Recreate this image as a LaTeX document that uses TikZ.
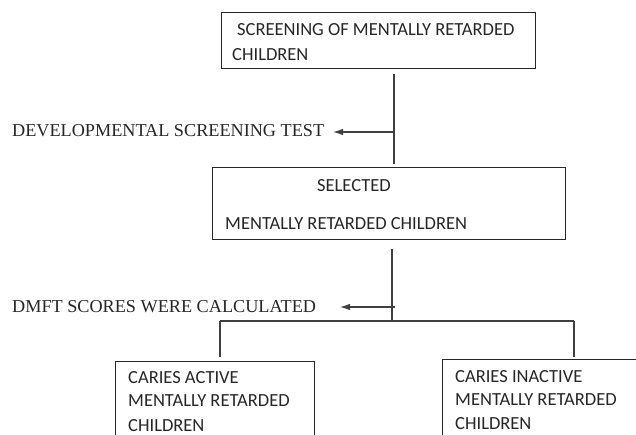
\documentclass[tikz,border=0pt]{standalone}
\usepackage{fontspec}
\setmainfont{Liberation Serif}
\newfontfamily\calibri{Carlito}
\usetikzlibrary{arrows.meta}
\begin{document}
\begin{tikzpicture}[x=1pt,y=-1pt,
  box/.style={draw=black!85,line width=1pt,rectangle,inner sep=0pt,anchor=north west},
  btxt/.style={font=\calibri\fontsize{18.5}{22}\selectfont,anchor=base west,inner sep=0pt,text=black!85},
  ttxt/.style={font=\fontsize{18.2}{21}\selectfont,anchor=base west,inner sep=0pt,text=black!85},
  conn/.style={draw=black!75,line width=1.1pt},
  arr/.style={conn,-{Latex[length=10pt,width=6.5pt]}}]
\clip (0,0) rectangle (636,435);
% boxes
\node[box,minimum width=314pt,minimum height=56pt] (top) at (221,12) {};
\node[box,minimum width=353pt,minimum height=72pt] (mid) at (212,167) {};
\node[box,minimum width=199pt,minimum height=90pt] (left) at (115,361) {};
\node[box,minimum width=210pt,minimum height=92pt] (right) at (442,359) {};
% box texts
\node[btxt] (t1) at (237,36) {SCREENING OF MENTALLY RETARDED};
\node[btxt] (t2) at (232,61) {CHILDREN};
\node[btxt] (m1) at (317,192) {SELECTED};
\node[btxt] (m2) at (225,230) {MENTALLY RETARDED CHILDREN};
\node[btxt] (l1) at (128,383) {CARIES ACTIVE};
\node[btxt] (l2) at (128,406) {MENTALLY RETARDED};
\node[btxt] (l3) at (128,431) {CHILDREN};
\node[btxt] (r1) at (455,382) {CARIES INACTIVE};
\node[btxt] (r2) at (455,405) {MENTALLY RETARDED};
\node[btxt] (r3) at (455,429) {CHILDREN};
% side labels
\node[ttxt] (dst) at (12,137) {DEVELOPMENTAL SCREENING TEST};
\node[ttxt] (dmft) at (12,312) {DMFT SCORES WERE CALCULATED};
% connector points
\coordinate (a1) at (394,74);
\coordinate (a2) at (394,164);
\coordinate (a3) at (394,132);
\coordinate (a4) at (333,132);
\coordinate (b1) at (392,249);
\coordinate (b2) at (392,321);
\coordinate (b3) at (395,307);
\coordinate (b4) at (340,307);
\coordinate (c1) at (220,321);
\coordinate (c2) at (574,321);
\coordinate (c3) at (220,357);
\coordinate (c4) at (574,357);
\draw[conn] (a1) -- (a2);
\draw[arr] (a3) -- (a4);
\draw[conn] (b1) -- (b2);
\draw[arr] (b3) -- (b4);
\draw[conn] (c1) -- (c2);
\draw[conn] (c1) -- (c3);
\draw[conn] (c2) -- (c4);
\end{tikzpicture}
\end{document}
